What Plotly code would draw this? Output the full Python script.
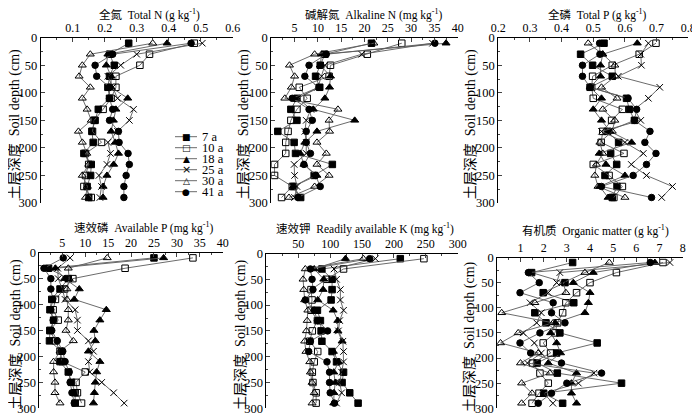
import plotly.graph_objects as go

# the page puts the figure 8 px in from the top-left corner of the window
PAD = 8
W, H = 700 - PAD, 416 - PAD
SERIF = 'Liberation Serif, Times New Roman, Noto Sans CJK SC, serif'

# soil layers (cm) and stand ages
depth = [10, 30, 50, 70, 90, 110, 130, 150, 170, 190, 210, 230, 250, 270, 290]
ages = ['7 a', '10 a', '18 a', '25 a', '30 a', '41 a']

# one row per stand age, in the order of `ages`
total_n = [
    [0.275, 0.215, 0.23, 0.215, 0.21, 0.215, 0.18, 0.17, 0.16, 0.164, 0.135, 0.158, 0.156, 0.145, 0.15],
    [0.48, 0.34, 0.31, 0.235, 0.235, 0.22, 0.195, 0.167, 0.162, 0.19, 0.14, 0.15, 0.14, 0.135, 0.158],
    [0.395, 0.21, 0.205, 0.22, 0.22, 0.272, 0.235, 0.227, 0.22, 0.233, 0.243, 0.228, 0.207, 0.195, 0.195],
    [0.505, 0.30, 0.25, 0.21, 0.225, 0.24, 0.29, 0.277, 0.24, 0.21, 0.218, 0.207, 0.182, 0.19, 0.185],
    [0.35, 0.155, 0.13, 0.12, 0.155, 0.13, 0.145, 0.158, 0.118, 0.13, 0.144, 0.15, 0.13, 0.146, 0.14],
    [0.47, 0.225, 0.17, 0.175, 0.215, 0.215, 0.225, 0.215, 0.243, 0.245, 0.273, 0.277, 0.267, 0.26, 0.26],
]
alkaline_n = [
    [21.5, 11.5, 10.5, 9.5, 10.4, 5.5, 4.2, 5.5, 1.4, 4.9, 5.2, 13.1, 9.2, 4.8, 6.3],
    [28.0, 20.6, 12.7, 12.4, 6.0, 7.7, 5.5, 4.2, 3.6, 3.1, 3.1, 0.7, 0.7, 4.5, 2.2],
    [37.5, 10.8, 10.5, 12.7, 12.5, 11.5, 9.0, 17.9, 9.8, 7.2, 6.2, 7.0, 9.8, 4.7, 6.0],
    [34.6, 19.4, 11.5, 10.8, 10.0, 5.7, 8.5, 7.5, 7.2, 7.5, 7.5, 4.9, 5.0, 5.5, 5.0],
    [22.0, 9.3, 3.9, 5.0, 4.3, 2.9, 14.3, 12.4, 12.5, 9.8, 11.8, 9.8, 12.4, 9.3, 3.8],
    [35.1, 11.8, 8.1, 7.2, 10.2, 4.5, 8.1, 8.8, 7.5, 7.5, 8.4, 7.0, 9.5, 10.5, 5.7],
]
total_p = [
    [0.534, 0.46, 0.498, 0.56, 0.49, 0.605, 0.614, 0.63, 0.545, 0.58, 0.555, 0.574, 0.537, 0.575, 0.56],
    [0.698, 0.645, 0.56, 0.498, 0.495, 0.50, 0.592, 0.558, 0.53, 0.525, 0.597, 0.50, 0.55, 0.592, 0.565],
    [0.639, 0.53, 0.523, 0.523, 0.49, 0.526, 0.50, 0.526, 0.553, 0.621, 0.519, 0.54, 0.60, 0.52, 0.547],
    [0.674, 0.65, 0.652, 0.579, 0.71, 0.674, 0.63, 0.65, 0.526, 0.60, 0.658, 0.62, 0.668, 0.75, 0.716],
    [0.484, 0.53, 0.568, 0.57, 0.526, 0.575, 0.53, 0.568, 0.56, 0.521, 0.53, 0.51, 0.505, 0.515, 0.60],
    [0.52, 0.521, 0.466, 0.466, 0.49, 0.61, 0.637, 0.63, 0.679, 0.663, 0.698, 0.668, 0.626, 0.526, 0.684],
]
available_p = [
    [25.0, 2.0, 6.3, 4.5, 2.7, 2.3, 3.1, 2.3, 2.2, 4.8, 4.5, 6.3, 7.0, 7.8, 7.8],
    [33.5, 18.7, 7.3, 5.5, 3.5, 3.0, 4.1, 2.3, 3.5, 4.5, 5.0, 10.0, 8.0, 8.3, 9.2],
    [27.1, 3.5, 5.5, 8.7, 7.6, 14.6, 13.2, 11.9, 12.2, 10.7, 13.2, 12.5, 12.2, 12.0, 11.8],
    [6.7, 4.0, 4.1, 5.0, 5.6, 7.8, 8.3, 8.3, 10.7, 11.8, 10.7, 11.0, 13.6, 16.2, 18.5],
    [14.8, 6.3, 6.5, 6.0, 6.0, 6.3, 6.3, 5.8, 7.4, 4.5, 3.1, 3.1, 3.4, 3.4, 4.5],
    [5.2, 1.0, 2.5, 2.5, 2.9, 2.5, 3.0, 2.7, 3.9, 5.1, 5.6, 6.5, 6.7, 7.1, 7.6],
]
available_k = [
    [210, 87, 103, 103, 101.5, 80, 84.7, 85.8, 87, 103, 110, 121, 118.7, 130.7, 143.8],
    [247, 121, 94, 70, 71.6, 70, 80, 72, 68, 80.5, 75, 72, 73, 78, 78],
    [124, 75, 90, 89, 80.5, 104.6, 112, 112, 118.7, 105, 113, 105.6, 108, 106, 105.6],
    [171, 106, 110, 116, 116, 121, 115, 113, 120, 121, 121, 118, 115, 118, 110],
    [152, 61, 57.5, 58.6, 60, 65, 64, 62.8, 60, 62, 68, 69, 71.6, 75, 71.6],
    [162, 69, 71.6, 73, 61, 75, 80, 96, 69, 66.4, 95, 99, 99, 100, 106.7],
]
organic_matter = [
    [3.25, 1.48, 2.92, 1.98, 3.3, 1.62, 2.1, 2.7, 4.31, 2.56, 1.72, 2.59, 5.36, 2.0, 2.82],
    [7.15, 5.14, 4.0, 3.42, 2.96, 2.82, 2.6, 2.49, 1.98, 2.3, 1.52, 1.84, 2.2, 1.8, 1.5],
    [6.8, 4.14, 3.28, 4.0, 3.93, 3.78, 2.5, 2.3, 2.56, 2.73, 2.2, 3.42, 3.2, 3.2, 3.42],
    [7.45, 2.7, 2.56, 2.2, 1.41, 1.9, 1.7, 1.12, 1.6, 1.9, 1.3, 4.17, 3.5, 2.0, 2.4],
    [4.83, 3.78, 2.85, 2.96, 1.62, 0.19, 2.41, 0.9, 0.14, 1.77, 1.0, 2.27, 1.05, 1.5, 1.05],
    [6.6, 1.34, 1.81, 0.98, 2.41, 2.34, 2.92, 1.84, 0.98, 1.44, 2.77, 4.5, 3.0, 2.34, 1.77],
]

symbols = ['square', 'square-open', 'triangle-up', 'x-thin-open', 'triangle-up-open', 'circle']
legend_glyphs = ['\u25a0', '\u25a1', '\u25b2', '\u00d7', '\u25b3', '\u25cf']


def px(x):
    # window pixel -> paper x
    return (x - PAD) / W


def py(y):
    # window pixel -> paper y
    return 1 - (y - PAD) / H


# panel layout in window pixels: data, title, x range, tick values, minor step,
# plot left/right, plot top/bottom, title centre, y-title x
panels = [
    (total_n, '全氮  Total N (g kg<sup>-1</sup>)', [0, 0.6], [0.1, 0.2, 0.3, 0.4, 0.5, 0.6], 0.05,
     (40.7, 232.7), (37.7, 203), (149, 14.5), 15),
    (alkaline_n, '碱解氮  Alkaline N (mg kg<sup>-1</sup>)', [0, 40], list(range(5, 41, 5)), 2.5,
     (271.3, 457.7), (37.7, 203), (374, 14.5), 244),
    (total_p, '全磷  Total P (g kg<sup>-1</sup>)', [0.2, 0.8], [0.2, 0.3, 0.4, 0.5, 0.6, 0.7, 0.8], 0.05,
     (498.2, 688.3), (37.7, 203), (597, 14.5), 471),
    (available_p, '速效磷  Available P (mg kg<sup>-1</sup>)', [0, 40], list(range(5, 41, 5)), 2.5,
     (39.4, 222.7), (252.7, 408.3), (143, 227), 15),
    (available_k, '速效钾  Readily available K (mg kg<sup>-1</sup>)', [0, 300], list(range(50, 301, 50)), 25,
     (266.4, 457.7), (253.5, 408.3), (365, 228.5), 241),
    (organic_matter, '有机质  Organic matter (g kg<sup>-1</sup>)', [0, 8], list(range(1, 9)), 0.5,
     (497.3, 682.7), (257.5, 408.3), (595, 231), 470),
]

fig = go.Figure()
annotations = []
shapes = []
layout = {}

for i, (data, title, xr, tv, minor_step, (x0, x1), (y0, y1), (tx, ty), ytx) in enumerate(panels):
    n = '' if i == 0 else str(i + 1)
    for k, age in enumerate(ages):
        fig.add_trace(go.Scatter(
            x=data[k], y=depth, mode='lines+markers', name=age, showlegend=False,
            xaxis='x' + n, yaxis='y' + n,
            line=dict(color='#5a5a5a', width=0.9),
            marker=dict(symbol=symbols[k], size=7 if 'triangle' in symbols[k] else 6.5,
                        color='black', line=dict(color='black', width=1)),
        ))
    layout['xaxis' + n] = dict(
        domain=[px(x0), px(x1)], anchor='y' + n, side='top', range=xr, automargin=False,
        tickmode='array', tickvals=tv, ticks='inside', ticklen=4, tickwidth=1,
        minor=dict(tickmode='linear', tick0=0, dtick=minor_step, ticks='inside', ticklen=2, tickwidth=1),
        showline=True, linecolor='black', linewidth=1, mirror=False,
        showgrid=False, zeroline=False, tickfont=dict(family=SERIF, size=12, color='black'),
    )
    layout['yaxis' + n] = dict(
        domain=[py(y1), py(y0)], anchor='x' + n, range=[300, 0], automargin=False,
        tickmode='array', tickvals=list(range(0, 301, 50)), ticks='inside', ticklen=4, tickwidth=1,
        minor=dict(tickmode='linear', tick0=0, dtick=25, ticks='inside', ticklen=2, tickwidth=1),
        showline=True, linecolor='black', linewidth=1,
        showgrid=False, zeroline=False, tickfont=dict(family=SERIF, size=12.5, color='black'),
    )
    annotations.append(dict(
        text=title, x=px(tx), y=py(ty), xref='paper', yref='paper',
        xanchor='center', yanchor='middle', showarrow=False,
        font=dict(family=SERIF, size=11.5, color='black'),
    ))
    annotations.append(dict(
        text='土层深度  Soil depth (cm)', x=px(ytx), y=py((y0 + y1) / 2 + 4),
        xref='paper', yref='paper', textangle=-90,
        xanchor='center', yanchor='middle', showarrow=False,
        font=dict(family=SERIF, size=14, color='black'),
    ))

# hand-drawn legend inside the first panel
for k, age in enumerate(ages):
    ly = 136.7 + k * 11
    shapes.append(dict(type='line', xref='paper', yref='paper',
                       x0=px(175), x1=px(197), y0=py(ly), y1=py(ly),
                       line=dict(color='#5a5a5a', width=0.9)))
    annotations.append(dict(
        text=legend_glyphs[k], x=px(186), y=py(ly), xref='paper', yref='paper',
        xanchor='center', yanchor='middle', showarrow=False,
        font=dict(family='DejaVu Sans', size=9 if k != 3 else 11, color='black'),
    ))
    annotations.append(dict(
        text=age, x=px(200), y=py(ly), xref='paper', yref='paper',
        xanchor='left', yanchor='middle', showarrow=False,
        font=dict(family=SERIF, size=12.5, color='black'),
    ))

fig.update_layout(
    width=W, height=H, margin=dict(l=0, r=0, t=0, b=0),
    paper_bgcolor='white', plot_bgcolor='white',
    font=dict(family=SERIF, color='black'),
    annotations=annotations, shapes=shapes, **layout,
)

fig.write_html('out.html')
